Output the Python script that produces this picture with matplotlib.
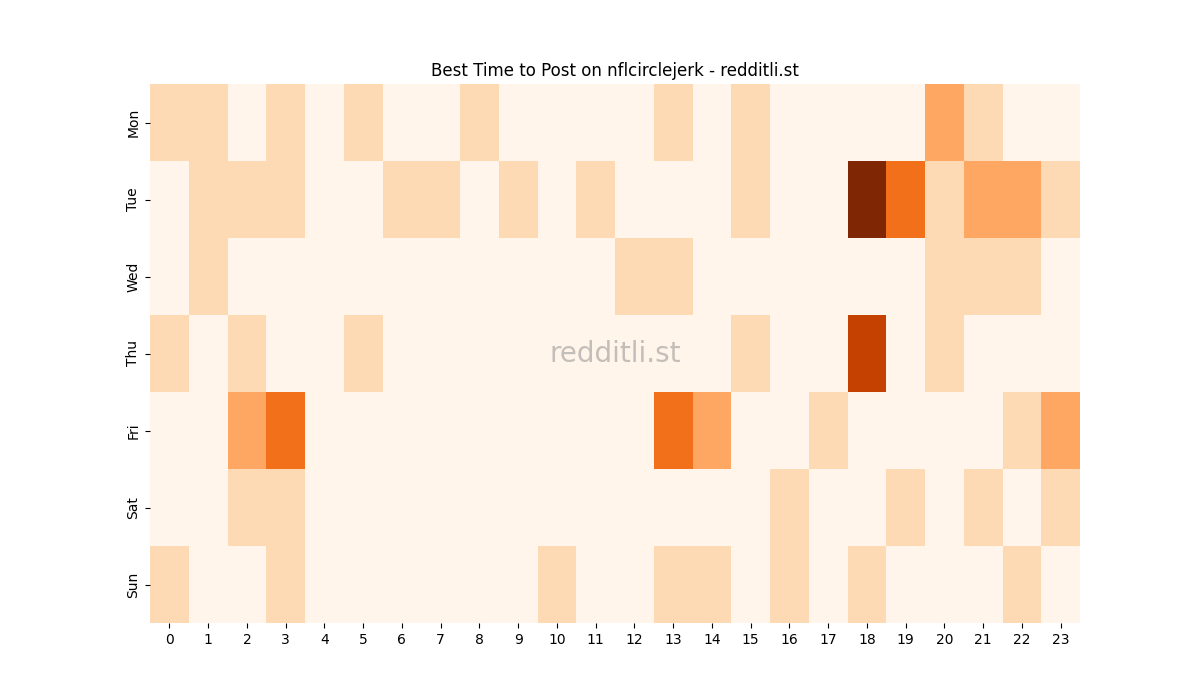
import matplotlib
matplotlib.use("Agg")
import matplotlib.pyplot as plt
import seaborn as sns
import numpy as np

days = ["Mon", "Tue", "Wed", "Thu", "Fri", "Sat", "Sun"]
hours = [str(h) for h in range(24)]
mon = [1,1,0,1,0,1,0,0,1,0,0,0,0,1,0,1,0,0,0,0,2,1,0,0]
tue = [0,1,1,1,0,0,1,1,0,1,0,1,0,0,0,1,0,0,5,3,1,2,2,1]
wed = [0,1,0,0,0,0,0,0,0,0,0,0,1,1,0,0,0,0,0,0,1,1,1,0]
thu = [1,0,1,0,0,1,0,0,0,0,0,0,0,0,0,1,0,0,4,0,1,0,0,0]
fri = [0,0,2,3,0,0,0,0,0,0,0,0,0,3,2,0,0,1,0,0,0,0,1,2]
sat = [0,0,1,1,0,0,0,0,0,0,0,0,0,0,0,0,1,0,0,1,0,1,0,1]
sun = [1,0,0,1,0,0,0,0,0,0,1,0,0,1,1,0,1,0,1,0,0,0,1,0]
data = np.array([mon, tue, wed, thu, fri, sat, sun])

fig = plt.figure(figsize=(12, 7), dpi=100)
ax = fig.add_axes([0.125, 0.11, 0.775, 0.77])
sns.heatmap(data, cmap="Oranges", vmin=0, vmax=5, cbar=False, ax=ax,
            xticklabels=hours, yticklabels=days)
ax.set_title("Best Time to Post on nflcirclejerk - redditli.st", fontsize=12)
ax.text(0.5, 0.5, "redditli.st", transform=ax.transAxes, ha="center", va="center",
        fontsize=20, color="#888888", alpha=0.5)
fig.savefig("out.png")
